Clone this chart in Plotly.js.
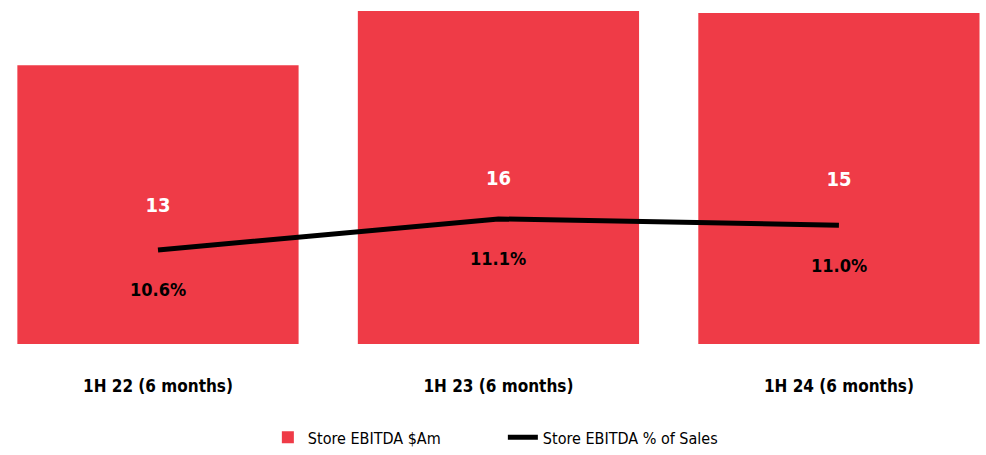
<!DOCTYPE html>
<html>
<head>
<meta charset="utf-8">
<script src="https://cdn.plot.ly/plotly-3.0.1.min.js"></script>
<style>html,body{margin:0;padding:0;background:#fff;}#chart{width:986px;height:455px;}</style>
</head>
<body>
<div id="chart"></div>
<script>
const categories = ["1H 22 (6 months)", "1H 23 (6 months)", "1H 24 (6 months)"];
const ebitdaValues = [13.4, 16.0, 15.9];
const ebitdaLabels = ["13", "16", "15"];
const marginPct = [10.6, 11.1, 11.0];
const marginLabels = ["10.6%", "11.1%", "11.0%"];
const seriesNames = ["Store EBITDA $Am", "Store EBITDA % of Sales"];

const FONT = "'DejaVu Sans Condensed', 'Liberation Sans Narrow', sans-serif";

const traces = [
  {
    type: "bar",
    name: seriesNames[0],
    x: categories,
    y: ebitdaValues,
    text: ebitdaLabels,
    textposition: "inside",
    insidetextanchor: "middle",
    textfont: {family: FONT, size: 20, color: "#ffffff", weight: "bold"},
    marker: {color: "#EF3B47"},
    width: 0.826,
    hoverinfo: "skip"
  },
  {
    type: "scatter",
    mode: "lines",
    name: seriesNames[1],
    x: categories,
    y: marginPct,
    yaxis: "y2",
    line: {color: "#000000", width: 5},
    hoverinfo: "skip"
  }
];

const annotations = categories.map((c, i) => ({
  x: c, y: marginPct[i], xref: "x", yref: "y2",
  text: "<b>" + marginLabels[i] + "</b>",
  showarrow: false, yshift: -40,
  font: {family: FONT, size: 18, color: "#000000"}
}));

const layout = {
  width: 986, height: 455,
  margin: {l: 0, r: 0, t: 0, b: 111, pad: 0},
  paper_bgcolor: "#ffffff",
  plot_bgcolor: "#ffffff",
  showlegend: true,
  legend: {
    orientation: "h", x: 0.51, xanchor: "center", y: -0.222, yanchor: "top",
    font: {family: FONT, size: 16, color: "#000000"},
    itemwidth: 30, entrywidth: 190, tracegroupgap: 0
  },
  xaxis: {
    type: "category",
    range: [-0.464, 2.432],
    showgrid: false, zeroline: false, showline: false,
    ticks: "", ticklabelstandoff: 30, automargin: false,
    tickfont: {family: FONT, size: 17, color: "#000000", weight: "bold"}
  },
  yaxis: {
    range: [0, 16.53], visible: false, showgrid: false, zeroline: false
  },
  yaxis2: {
    range: [9.084, 14.63], overlaying: "y", side: "right",
    visible: false, showgrid: false, zeroline: false
  },
  annotations: annotations
};

Plotly.newPlot("chart", traces, layout, {displayModeBar: false, staticPlot: true});
</script>
</body>
</html>
